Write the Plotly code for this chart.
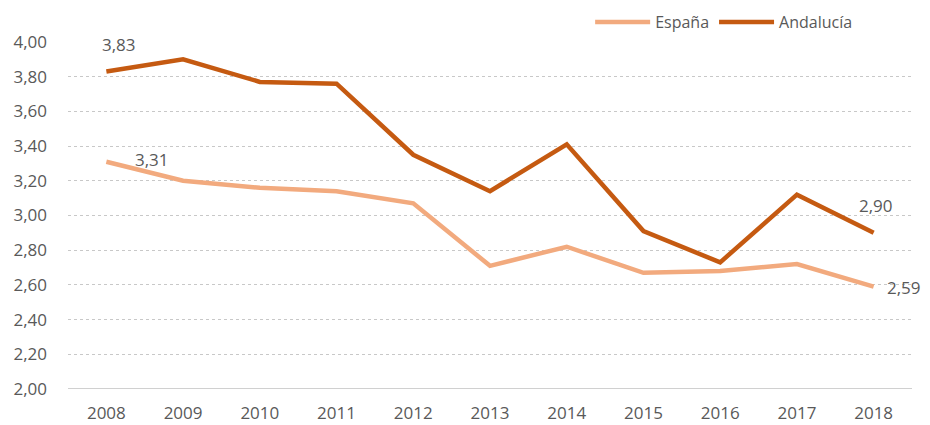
import plotly.graph_objects as go

years = [2008, 2009, 2010, 2011, 2012, 2013, 2014, 2015, 2016, 2017, 2018]
espana = [3.31, 3.20, 3.16, 3.14, 3.07, 2.71, 2.82, 2.67, 2.68, 2.72, 2.59]
andalucia = [3.83, 3.90, 3.77, 3.76, 3.35, 3.14, 3.41, 2.91, 2.73, 3.12, 2.90]
y_ticks = [2.0, 2.2, 2.4, 2.6, 2.8, 3.0, 3.2, 3.4, 3.6, 3.8, 4.0]

c_esp = "#F2AA7E"
c_and = "#C55A11"
font = "Open Sans, Liberation Sans, sans-serif"
grey = "#595959"


def fmt(v):
    return f"{v:.2f}".replace(".", ",")


fig = go.Figure()
fig.add_trace(go.Scatter(x=years, y=espana, name="España", mode="lines",
                         line=dict(color=c_esp, width=4.5)))
fig.add_trace(go.Scatter(x=years, y=andalucia, name="Andalucía", mode="lines",
                         line=dict(color=c_and, width=4.5)))

# data labels on first and last points
labels = [
    (years[0], andalucia[0], 13, -27),
    (years[0], espana[0], 46, -2),
    (years[-1], andalucia[-1], 2, -27),
    (years[-1], espana[-1], 30, 1),
]
for x, y, dx, dy in labels:
    fig.add_annotation(x=x, y=y, text=fmt(y), showarrow=False,
                       xshift=dx, yshift=-dy,
                       font=dict(family=font, size=17, color=grey))

fig.update_layout(
    width=930, height=425,
    margin=dict(l=60, r=26, t=34, b=44, autoexpand=False),
    plot_bgcolor="white", paper_bgcolor="white",
    font=dict(family=font, size=17, color=grey),
    legend=dict(orientation="h", x=0.935, xanchor="right", y=0.967, yanchor="middle",
                yref="container",
                font=dict(size=16, color=grey), itemwidth=55,
                bgcolor="rgba(0,0,0,0)"),
    showlegend=True,
)
fig.update_xaxes(range=[2007.5, 2018.5], tickvals=years,
                 ticktext=[str(y) for y in years],
                 showgrid=False, ticks="", tickfont=dict(size=17, color=grey),
                 ticklabelstandoff=12,
                 showline=False, zeroline=False)
fig.update_yaxes(range=[2.0, 4.0], tickvals=y_ticks,
                 ticktext=[fmt(v) for v in y_ticks],
                 showgrid=True, gridcolor="#C8C8C8", griddash="dot", gridwidth=1,
                 zeroline=False, showline=False, ticks="",
                 ticklabelstandoff=20,
                 tickfont=dict(size=17, color=grey))
# solid baseline at 2,00
fig.add_shape(type="line", xref="paper", x0=0, x1=1, yref="y", y0=2.0, y1=2.0,
              line=dict(color="#D0D0D0", width=2), layer="below")

fig.write_html("out.html")
